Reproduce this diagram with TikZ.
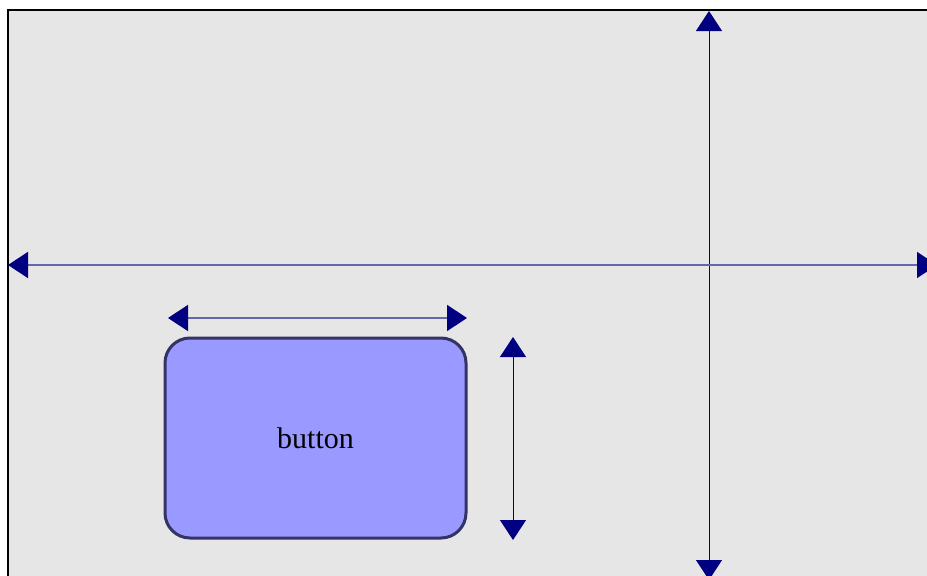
\documentclass[tikz,border=0pt]{standalone}
\usepackage{fontspec}
\setmainfont{Liberation Serif}
\usetikzlibrary{arrows.meta}
\definecolor{bg}{HTML}{E6E6E6}
\definecolor{navyc}{HTML}{000080}
\definecolor{hnavy}{HTML}{6666AA}
\definecolor{btnfill}{HTML}{9999FF}
\definecolor{btnline}{HTML}{333366}
\tikzset{
  dimline/.style={draw=navyc, line width=1pt, {Triangle[length=20pt,width=26pt,fill=navyc]}-{Triangle[length=20pt,width=26pt,fill=navyc]}},
  hdimline/.style={dimline, draw=hnavy, line width=1.6pt, {Triangle[length=20pt,width=26pt,color=navyc]}-{Triangle[length=20pt,width=26pt,color=navyc]}},
  btn/.style={draw=btnline, line width=3pt, fill=btnfill, rounded corners=25pt, minimum width=301pt, minimum height=200pt, inner sep=0pt, font=\fontsize{30}{36}\selectfont},
}
\begin{document}
\begin{tikzpicture}[x=1pt,y=-1pt]
\useasboundingbox (0,0) rectangle (927,576);
\fill[bg] (8,10) rectangle (960,600);
\draw[black, line width=1.2pt] (8,600) -- (8,10) -- (960,10);
% axes
\coordinate (vt) at (709,11);
\coordinate (vb) at (709,580);
\coordinate (hl) at (8,265);
\coordinate (hr) at (937,265);
\draw[dimline] (vt) -- (vb);
\draw[hdimline] (hl) -- (hr);
% button
\node[btn] (button) at (315.5,438) {button};
\coordinate (wl) at (168,318);
\coordinate (wr) at (467,318);
\draw[hdimline] (wl) -- (wr);
\coordinate (ht) at (513,337);
\coordinate (hb) at (513,540);
\draw[dimline] (ht) -- (hb);
\end{tikzpicture}
\end{document}
